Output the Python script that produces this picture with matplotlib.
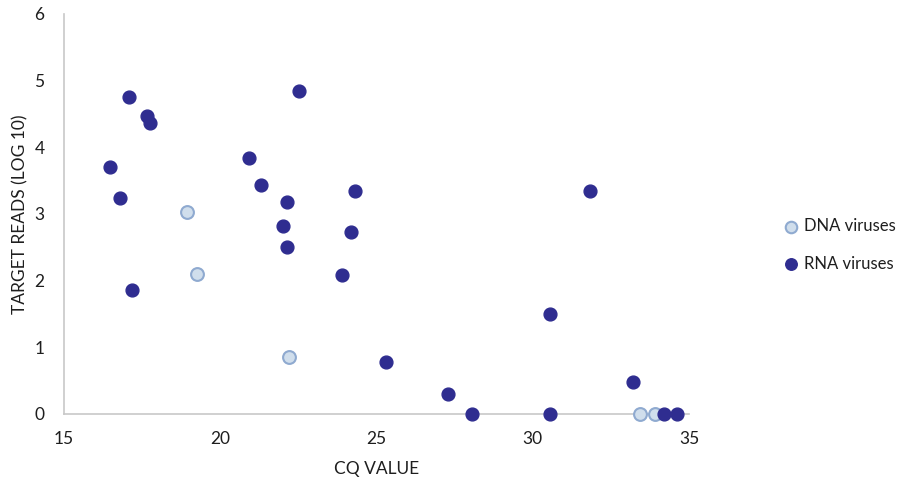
import matplotlib
matplotlib.use("Agg")
import matplotlib.pyplot as plt

dna_cq = [18.94, 19.26, 22.2, 33.43, 33.9]
dna_reads = [3.03, 2.10, 0.85, 0.0, 0.0]

rna_cq = [16.47, 16.79, 17.08, 17.18, 17.66, 17.75, 20.92, 21.30, 22.01, 22.14,
          22.14, 22.52, 23.90, 24.18, 24.31, 25.30, 27.29, 28.06, 30.55, 30.55,
          31.83, 33.21, 34.21, 34.6]
rna_reads = [3.70, 3.24, 4.75, 1.86, 4.47, 4.36, 3.84, 3.43, 2.82, 3.18,
             2.50, 4.85, 2.08, 2.73, 3.34, 0.78, 0.30, 0.0, 1.50, 0.0,
             3.34, 0.48, 0.0, 0.0]

x_ticks = [15, 20, 25, 30, 35]
y_ticks = [0, 1, 2, 3, 4, 5, 6]

plt.rcParams['font.family'] = ['Lato', 'DejaVu Sans']
TXT = '#1E1E1E'

fig = plt.figure(figsize=(9, 4.82), dpi=100)
ax = fig.add_axes([64/900, 68/482, (689-64)/900, 400/482])

ax.scatter(dna_cq, dna_reads, s=85, facecolor='#D0DEEC', edgecolor='#8FAAD0',
           linewidth=1.5, label='DNA viruses', zorder=3, clip_on=False)
ax.scatter(rna_cq, rna_reads, s=85, facecolor='#2F2D90', edgecolor='#2F2D90',
           linewidth=1.0, label='RNA viruses', zorder=3, clip_on=False)

ax.set_xlim(15, 35)
ax.set_ylim(0, 6)
ax.set_xticks(x_ticks)
ax.set_yticks(y_ticks)
ax.tick_params(length=0, labelsize=12.5, colors=TXT, pad=12)
ax.tick_params(axis='y', pad=14)
for s in ['top', 'right']:
    ax.spines[s].set_visible(False)
for s in ['left', 'bottom']:
    ax.spines[s].set_color('#C8C8C8')
    ax.spines[s].set_linewidth(1.2)

ax.set_xlabel('CQ VALUE', fontsize=12.5, color=TXT, labelpad=10)
ax.set_ylabel('TARGET READS (LOG 10)', fontsize=12.5, color=TXT, labelpad=4)

leg = fig.legend(loc='center left', bbox_to_anchor=(773/900, 1 - 245/482),
                 frameon=False, fontsize=12, handletextpad=0.15,
                 labelspacing=1.3, markerscale=0.9, borderpad=0.0,
                 handlelength=1.2)
for t in leg.get_texts():
    t.set_color(TXT)

fig.savefig('out.png', dpi=100)
